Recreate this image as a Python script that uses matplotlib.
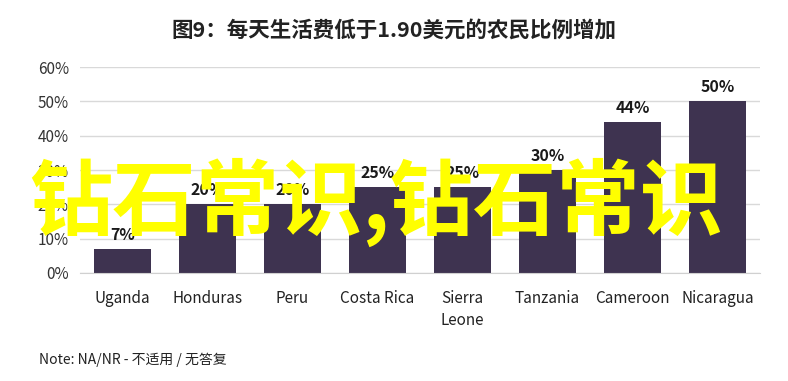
import matplotlib.pyplot as plt
import numpy as np

plt.rcParams['font.family'] = ['Noto Sans CJK SC', 'DejaVu Sans']

# Data
countries = ['Uganda', 'Honduras', 'Peru', 'Costa Rica', 'Sierra\nLeone',
             'Tanzania', 'Cameroon', 'Nicaragua']
share = np.array([7, 20, 20, 25, 25, 30, 44, 50])
y_ticks = [0, 10, 20, 30, 40, 50, 60]

fig = plt.figure(figsize=(7.88, 3.81), dpi=100)
ax = fig.add_axes([0.1015, 0.2835, 0.863, 0.5405])

x = np.arange(len(countries))
bars = ax.bar(x, share, width=0.67, color='#3e3350', zorder=2)

for xi, v in zip(x, share):
    ax.text(xi, v + 1.8, f'{v}%', ha='center', va='bottom',
            fontsize=11.5, fontweight='bold', color='#1a1a1a')

ax.set_xlim(-0.5, len(countries) - 0.5)
ax.set_ylim(0, 60)
ax.set_yticks(y_ticks)
ax.set_yticklabels([f'{t}%' for t in y_ticks], fontsize=11, color='#333333')
ax.set_xticks(x)
ax.set_xticklabels(countries, fontsize=11, color='#222222', linespacing=1.4)
ax.tick_params(length=0, pad=8)
ax.tick_params(axis='x', pad=12)

ax.grid(axis='y', color='#d9d9d9', linewidth=1, zorder=0)
for s in ['top', 'right', 'left']:
    ax.spines[s].set_visible(False)
ax.spines['bottom'].set_color('#d0d0d0')

fig.text(0.5, 0.92, '图9：每天生活费低于1.90美元的农民比例增加', ha='center',
         va='center', fontsize=15.5, fontweight='bold', color='#222222')
fig.text(0.05, 0.055, 'Note: NA/NR - 不适用 / 无答复', ha='left', va='center',
         fontsize=10, color='#222222')

# watermark overlay
fig.text(0.477, 0.47, '钻石常识,钻石常识', ha='center', va='center',
         fontsize=60, fontweight='bold', color='#ffff00', zorder=10)

plt.savefig('out.png', dpi=100)
